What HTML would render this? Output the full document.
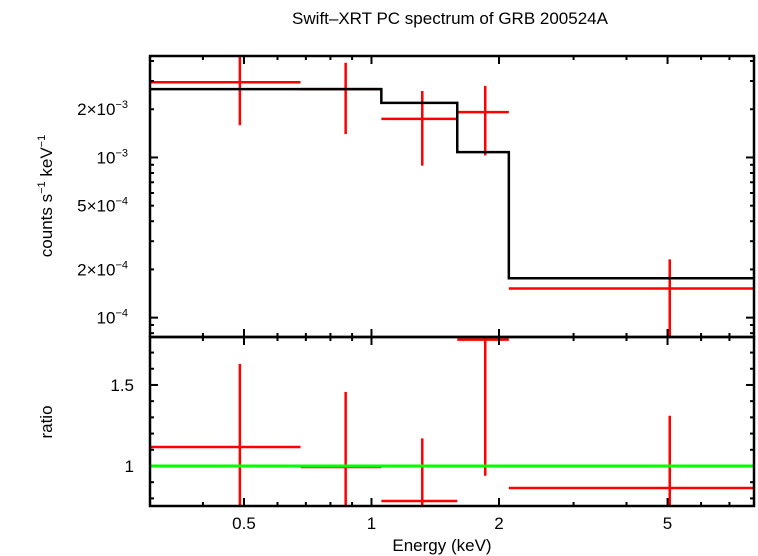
<!DOCTYPE html>
<html><head><meta charset="utf-8"><style>
html,body{margin:0;padding:0;background:#fff;}
svg{display:block;font-family:"Liberation Sans",sans-serif;}
</style></head><body>
<svg id="chart" width="758" height="556" xmlns="http://www.w3.org/2000/svg">
<text x="450" y="24" font-size="17" text-anchor="middle">Swift–XRT PC spectrum of GRB 200524A</text>
<text transform="translate(52,196) rotate(-90)" font-size="17" text-anchor="middle">counts s<tspan font-size="11" dy="-7">−1</tspan><tspan dy="7"> keV</tspan><tspan font-size="11" dy="-7">−1</tspan></text>
<text transform="translate(52,422) rotate(-90)" font-size="17" text-anchor="middle">ratio</text>
<text x="442" y="551" font-size="17" text-anchor="middle">Energy (keV)</text>
<g id="g"></g>
</svg>
<script>
const binLo=[0.3,0.68,1.055,1.594,2.11];
const binHi=[0.68,1.055,1.594,2.11,8];
const binCenter=[0.489,0.869,1.318,1.856,5.06];
const counts=[2.95e-3,2.67e-3,1.74e-3,1.92e-3,1.52e-4];
const countsHi=[4.6e-3,3.9e-3,2.6e-3,2.8e-3,2.31e-4];
const countsLo=[1.59e-3,1.4e-3,8.9e-4,1.03e-3,7e-5];
const modelLo=[0.3,1.055,1.594,2.11];
const modelHi=[1.055,1.594,2.11,8];
const model=[2.67e-3,2.19e-3,1.08e-3,1.76e-4];
const ratio=[1.117,0.994,0.784,1.78,0.864];
const ratioHi=[1.63,1.457,1.17,1.9,1.31];
const ratioLo=[0.6,0.6,0.6,0.94,0.6];
const xTicks=[0.5,1,2,5];
const xTickLabels=["0.5","1","2","5"];
const yTicks=[1e-4,2e-4,5e-4,1e-3,2e-3];
const yTickLabels=[["10","−4"],["2×10","−4"],["5×10","−4"],["10","−3"],["2×10","−3"]];
const rTicks=[1,1.5];
const rTickLabels=["1","1.5"];

const L=150,R=754,T1=56,B1=337,T2=337,B2=506;
const xmin=0.3,xmax=8,ymin=7.57e-5,ymax=4.3e-3,rmin=0.753,rmax=1.796;
const X=v=>L+(Math.log10(v)-Math.log10(xmin))/(Math.log10(xmax)-Math.log10(xmin))*(R-L);
const Y=v=>B1-(Math.log10(v)-Math.log10(ymin))/(Math.log10(ymax)-Math.log10(ymin))*(B1-T1);
const YR=v=>B2-(v-rmin)/(rmax-rmin)*(B2-T2);
const cy=(v,t,b)=>Math.max(t,Math.min(b,v));
const g=document.getElementById('g');
const NS="http://www.w3.org/2000/svg";
function ln(x1,y1,x2,y2,c,w,name){const e=document.createElementNS(NS,'line');
e.setAttribute('x1',x1);e.setAttribute('y1',y1);e.setAttribute('x2',x2);e.setAttribute('y2',y2);
e.setAttribute('stroke',c);e.setAttribute('stroke-width',w);


g.appendChild(e);return e;}
function tx(x,y,s,anchor,name){const e=document.createElementNS(NS,'text');
e.setAttribute('x',x);e.setAttribute('y',y);e.setAttribute('font-size','17');e.setAttribute('text-anchor',anchor);e.textContent=s;


g.appendChild(e);return e;}

// data
for(let i=0;i<counts.length;i++){
 const xc=X(binCenter[i]);
 ln(X(binLo[i]),Y(counts[i]),X(binHi[i]),Y(counts[i]),'#f00',2.5,'counts-xerr-'+i);
 ln(xc,cy(Y(countsHi[i]),T1,B1),xc,cy(Y(countsLo[i]),T1,B1),'#f00',2.5,'counts-yerr-'+i);
}
// model step
let path="";
for(let i=0;i<model.length;i++){path+=(i?"L":"M")+X(modelLo[i])+","+Y(model[i])+"L"+X(modelHi[i])+","+Y(model[i]);}
const mp=document.createElementNS(NS,'path');mp.setAttribute('d',path);mp.setAttribute('fill','none');mp.setAttribute('stroke','#000');mp.setAttribute('stroke-width','2.5');


g.appendChild(mp);
for(let i=0;i<ratio.length;i++){
 const xc=X(binCenter[i]);
 ln(X(binLo[i]),YR(ratio[i]),X(binHi[i]),YR(ratio[i]),'#f00',2.5,'ratio-xerr-'+i);
 ln(xc,cy(YR(ratioHi[i]),T2,B2),xc,cy(YR(ratioLo[i]),T2,B2),'#f00',2.5,'ratio-yerr-'+i);
}
// x ticks
const minorX=[0.3,0.4,0.6,0.7,0.8,0.9,3,4,6,7,8];
for(const v of minorX){const x=X(v);if(x<=L+1||x>=R-1)continue;
 [[T1,T1+4],[B1-4,B1],[T2,T2+4],[B2-4,B2]].forEach(p=>ln(x,p[0],x,p[1],'#000',2,'x-minor-tick'));}
xTicks.forEach((v,i)=>{const x=X(v);
 [[T1,T1+8],[B1-8,B1+8],[B2-8,B2]].forEach(p=>ln(x,p[0],x,p[1],'#000',2,'x-major-tick'));
 tx(x,529,xTickLabels[i],'middle','x-tick-label');});
// y ticks top
for(let d=-5;d<=-2;d++)for(let m=1;m<=9;m++){const v=m*Math.pow(10,d);const y=Y(v);if(y<=T1+1||y>=B1-1)continue;
 const len=(m===1)?8:4;ln(L,y,L+len,y,'#000',2,'y-tick');ln(R-len,y,R,y,'#000',2,'y-tick-right');}
yTicks.forEach((v,i)=>{const e=tx(128,Y(v)+6,yTickLabels[i][0],'end','y-tick-label');
 const s=document.createElementNS(NS,'tspan');s.setAttribute('font-size','11');s.setAttribute('dy','-7');s.textContent=yTickLabels[i][1];e.appendChild(s);});
// ratio ticks
for(let k=8;k<=17;k++){const v=k/10;const y=YR(v);if(y<=T2+1||y>=B2-1)continue;
 const len=(k%5===0)?8:4;ln(L,y,L+len,y,'#000',2,'ratio-tick');ln(R-len,y,R,y,'#000',2,'ratio-tick-right');}
rTicks.forEach((v,i)=>tx(134,YR(v)+6,rTickLabels[i],'end','ratio-tick-label'));
ln(L,YR(1),R,YR(1),'#0f0',3,'ratio-unity-line');
// frames
const f1=document.createElementNS(NS,'rect');f1.setAttribute('x',L);f1.setAttribute('y',T1);f1.setAttribute('width',R-L);f1.setAttribute('height',B1-T1);f1.setAttribute('fill','none');f1.setAttribute('stroke','#000');f1.setAttribute('stroke-width','2.5');


g.appendChild(f1);
const f2=document.createElementNS(NS,'rect');f2.setAttribute('x',L);f2.setAttribute('y',T2);f2.setAttribute('width',R-L);f2.setAttribute('height',B2-T2);f2.setAttribute('fill','none');f2.setAttribute('stroke','#000');f2.setAttribute('stroke-width','2.5');


g.appendChild(f2);
</script>
</body></html>
